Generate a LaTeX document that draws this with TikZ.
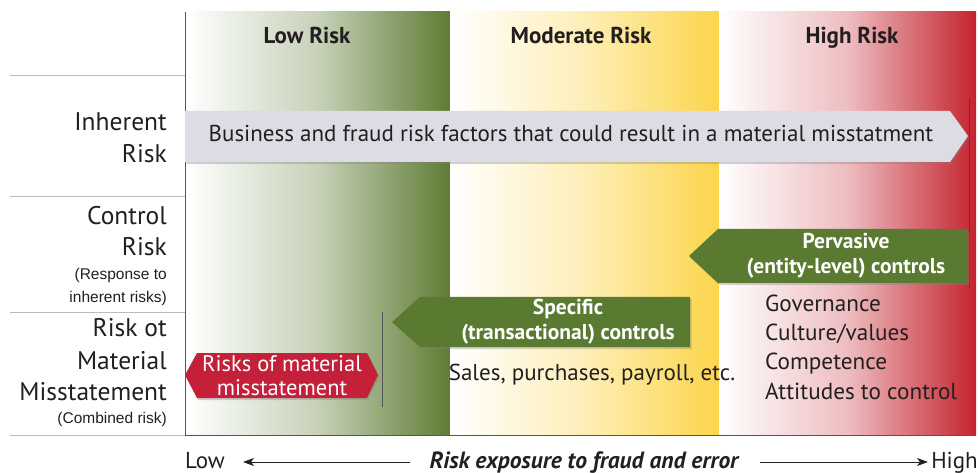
\documentclass[tikz,border=0pt]{standalone}
\usepackage{fontspec}
\setmainfont{PT Sans}
\newfontfamily\helv{Liberation Sans}
\usetikzlibrary{shadows,arrows.meta}
\definecolor{bandgreen}{HTML}{5E7C34}
\definecolor{bandyellow}{HTML}{FBD54A}
\definecolor{bandred}{HTML}{C4232E}
\definecolor{arrowgray}{HTML}{DCDCE4}
\definecolor{ctrlgreen}{HTML}{5B7A31}
\definecolor{hexred}{HTML}{C4203A}
\definecolor{txt}{HTML}{231F20}
\definecolor{sepgray}{HTML}{BBBBBB}
\definecolor{framegray}{HTML}{555555}
\definecolor{edgered}{HTML}{8E1F24}
\tikzset{
  lbl/.style={anchor=base east, inner sep=0pt, text=txt, font=\fontsize{25.5}{27}\selectfont},
  small/.style={anchor=base east, inner sep=0pt, text=txt, font=\helv\fontsize{15.5}{17}\selectfont},
  head/.style={anchor=base, inner sep=0pt, text=txt, font=\bfseries\fontsize{23}{25}\selectfont},
  wtxt/.style={anchor=base, inner sep=0pt, text=white, font=\bfseries\fontsize{21.5}{23}\selectfont},
  htxt/.style={anchor=base, inner sep=0pt, text=white, font=\fontsize{22.5}{24}\selectfont},
  body/.style={anchor=base, inner sep=0pt, text=txt, font=\fontsize{23}{25}\selectfont},
  lst/.style={anchor=base west, inner sep=0pt, text=txt, font=\fontsize{23.2}{25}\selectfont},
  sep/.style={draw=sepgray, line width=0.8pt},
  shd/.style={drop shadow={opacity=0.35, shadow xshift=1.5pt, shadow yshift=-2pt}},
  axarrow/.style={draw=txt, line width=1pt, -{Stealth[length=11pt,width=8pt,inset=3pt]}}
}
\begin{document}
\begin{tikzpicture}[x=1pt,y=-1pt]
\useasboundingbox (0,0) rectangle (978,473);
\fill[white] (0,0) rectangle (978,473);
% bands
\shade[left color=white, right color=bandgreen, middle color=bandgreen!35] (186,12) rectangle (450,435);
\shade[left color=white, right color=bandyellow, middle color=bandyellow!40] (450,12) rectangle (719,435);
\shade[left color=white, right color=bandred, middle color=bandred!30] (719,12) rectangle (976,435);
% frame and separators
\draw[sep] (10,75) -- (185,75);
\draw[sep] (10,196) -- (185,196);
\draw[sep] (10,312) -- (185,312);
\draw[sep] (10,435) -- (185,435);
\draw[framegray, line width=1pt] (185,12) -- (185,435) -- (976,435);
% headings
\node[head] (hlow) at (307,44) {Low Risk};
\node[head] (hmod) at (581,44) {Moderate Risk};
\node[head] (hhigh) at (852,44) {High Risk};
% edge line
\draw[edgered, line width=0.8pt] (969,98) -- (969,288);
% inherent risk arrow
\fill[arrowgray, shd] (185,111) -- (950,111) -- (968,136) -- (950,162) -- (185,162) -- cycle;
\node[body] (biz) at (571,142) {Business and fraud risk factors that could result in a material misstatment};
% pervasive arrow
\fill[ctrlgreen, shd] (689,256) -- (718,229) -- (968,229) -- (968,283) -- (718,283) -- cycle;
\node[wtxt] (perv1) at (846,249) {Pervasive};
\node[wtxt] (perv2) at (846,274) {(entity-level) controls};
% specific arrow
\fill[ctrlgreen, shd] (392,322) -- (420,297) -- (690,297) -- (690,347) -- (420,347) -- cycle;
\node[wtxt] (spec1) at (568,315) {Specific};
\node[wtxt] (spec2) at (568,340) {(transactional) controls};
% divider line
\draw[framegray, line width=0.8pt] (382,312) -- (382,407);
% red hexagon
\fill[hexred, shd] (185,375) -- (197,353) -- (367,353) -- (378,375) -- (367,398) -- (197,398) -- cycle;
\node[htxt] (rmm1) at (282,371) {Risks of material};
\node[htxt] (rmm2) at (282,395) {misstatement};
% sales
\node[body] (sales) at (592,381) {Sales, purchases, payroll, etc.};
% list
\node[lst] (gov) at (765,312) {Governance};
\node[lst] (cul) at (765,341) {Culture/values};
\node[lst] (comp) at (765,370) {Competence};
\node[lst] (att) at (765,399) {Attitudes to control};
% left labels
\node[lbl] (inh1) at (167,131) {Inherent};
\node[lbl] (inh2) at (167,163) {Risk};
\node[lbl] (con1) at (167,225) {Control};
\node[lbl] (con2) at (167,256) {Risk};
\node[small] (con3) at (167,280) {(Response to};
\node[small] (con4) at (167,302) {inherent risks)};
\node[lbl] (rmt1) at (167,337) {Risk ot};
\node[lbl] (rmt2) at (167,369) {Material};
\node[lbl] (rmt3) at (167,400) {Misstatement};
\node[small] (rmt4) at (167,423) {(Combined risk)};
% bottom axis
\node[body, anchor=base west] (low) at (185,468) {Low};
\node[body, font=\bfseries\itshape\fontsize{23.5}{25}\selectfont] (expo) at (584,468) {Risk exposure to fraud and error};
\node[body, anchor=base east] (high) at (978,468) {High};
\coordinate (la) at (410,462);
\coordinate (lb) at (243,462);
\coordinate (ra) at (760,462);
\coordinate (rb) at (928,462);
\draw[axarrow] (la) -- (lb);
\draw[axarrow] (ra) -- (rb);
\end{tikzpicture}
\end{document}
